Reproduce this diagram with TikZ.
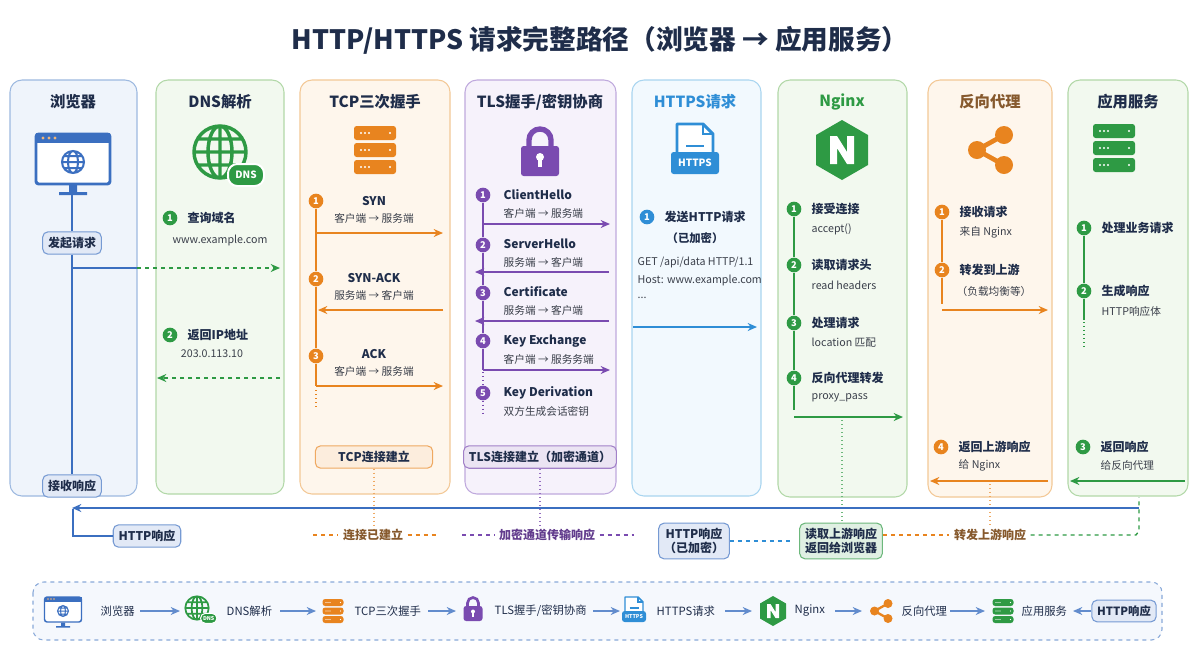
\documentclass[tikz,border=0pt]{standalone}
\usepackage{fontspec}
\setmainfont{Noto Sans CJK SC}
\usetikzlibrary{arrows.meta}
\definecolor{bB}{HTML}{9DB9E0}\definecolor{bF}{HTML}{EFF4FB}\definecolor{bD}{HTML}{3B6FC0}
\definecolor{gB}{HTML}{B2D8A8}\definecolor{gF}{HTML}{F2F9EF}\definecolor{gD}{HTML}{2E9A44}
\definecolor{oB}{HTML}{F3C896}\definecolor{oF}{HTML}{FEF6EC}\definecolor{oD}{HTML}{E8841F}
\definecolor{pB}{HTML}{BFA9DD}\definecolor{pF}{HTML}{F6F2FB}\definecolor{pD}{HTML}{7A4BB0}
\definecolor{cB}{HTML}{A9D5F0}\definecolor{cF}{HTML}{F2F9FE}\definecolor{cD}{HTML}{2F8ED6}
\definecolor{ink}{HTML}{1F2D4A}\definecolor{sub}{HTML}{3A3F4A}
\def\icf{\fontsize{7.5}{8}\selectfont\bfseries}
\def\lwk{1}
\tikzset{
 colbox/.style={rounded corners=9pt,line width=0.8pt},
 hd/.style={font=\fontsize{11.5}{13}\selectfont\bfseries},
 tt/.style={font=\fontsize{9}{10}\selectfont\bfseries,anchor=west,text=ink},
 ss/.style={font=\fontsize{8}{9}\selectfont,anchor=west,text=sub},
 num/.style={circle,fill=#1,text=white,inner sep=0pt,minimum size=11pt,font=\fontsize{7}{7}\selectfont\bfseries},
 arr/.style={line width=1.1pt,-{Stealth[length=7pt,width=6pt]}},
 tag/.style={draw=#1!70,fill=#1!15,rounded corners=4pt,line width=0.8pt,font=\fontsize{9}{10}\selectfont\bfseries,text=ink,inner sep=4pt,align=center},
 lg/.style={font=\fontsize{8.5}{9}\selectfont,text=ink,anchor=west},
 monitor/.pic={
  \draw[bD,line width=2.2pt*\lwk,fill=white,rounded corners=2pt] (-37,-24) rectangle (37,26);
  \fill[bD] (-37,-25) rectangle (37,-15);
  \foreach \i in {-30,-24,-18}\fill[oD!60] (\i,-20) circle (1.6);
  \draw[bD,line width=1.5pt*\lwk] (0,4) circle (11) (0,4) ellipse (5 and 11) (-11,4)--(11,4) (-9,-2)--(9,-2) (-9,10)--(9,10);
  \fill[bD] (-4,27) rectangle (4,34) (-14,34) rectangle (14,37);},
 globe/.pic={
  \draw[gD,line width=2.6pt*\lwk] (0,0) circle (26) (0,0) ellipse (12 and 26) (0,-26)--(0,26) (-26,0)--(26,0) (-22,-13)--(22,-13) (-22,13)--(22,13);
  \fill[gD,rounded corners=7pt*\lwk] (8,12) rectangle (44,34);
  \draw[white,line width=1.5pt*\lwk,rounded corners=7pt*\lwk] (8,12) rectangle (44,34);
  \node[text=white,font=\icf] at (26,23) {DNS};},
 servers/.pic={
  \foreach \y in {-17,0,17}{\fill[#1,rounded corners=2pt] (-21,\y-7) rectangle (21,\y+7);
   \foreach \i in {-14,-10,-6}\fill[white] (\i,\y) circle (1.2);
   \fill[white] (15,\y) circle (1.2);}},
 lock/.pic={
  \draw[pD,line width=4pt*\lwk] (-11,-2) -- (-11,-10) arc(180:360:11) -- (11,-2);
  \fill[pD,rounded corners=2pt] (-19,-4) rectangle (19,26);
  \fill[white] (0,7) circle (4); \fill[white] (-1.8,7) rectangle (1.8,17);},
 doc/.pic={
  \draw[cD,line width=2.2pt*\lwk,fill=white,line join=round] (-18,8)--(-18,-26)--(8,-26)--(18,-16)--(18,8);
  \draw[cD,line width=1.6pt*\lwk] (8,-26)--(8,-16)--(18,-16) (-9,-4)--(9,-4);
  \fill[cD,rounded corners=2pt] (-24,2) rectangle (24,24);
  \node[text=white,font=\icf] at (0,13) {HTTPS};},
 ngx/.pic={
  \fill[gD] (0,-30)--(26,-15)--(26,15)--(0,30)--(-26,15)--(-26,-15)--cycle;
  \fill[white] (-12,14)--(-12,-14)--(-5,-14)--(5,2)--(5,-14)--(12,-14)--(12,14)--(5,14)--(-5,-2)--(-5,14)--cycle;},
 share/.pic={
  \draw[oD,line width=3.5pt*\lwk] (14,-15)--(-13,0)--(14,15);
  \fill[oD] (14,-15) circle (9) (-13,0) circle (9) (14,15) circle (9);},
}
\begin{document}
\begin{tikzpicture}[x=0.75pt,y=-0.75pt]
\useasboundingbox[fill=white] (0,0) rectangle (1200,658);
\node[font=\fontsize{20}{24}\selectfont\bfseries,text=ink] (title) at (600,40) {HTTP/HTTPS 请求完整路径（浏览器 → 应用服务）};
% columns
\draw[colbox,draw=bB,fill=bF] (10,80) rectangle (137,496);
\draw[colbox,draw=gB,fill=gF] (156,80) rectangle (284,494);
\draw[colbox,draw=oB,fill=oF] (300,80) rectangle (450,494);
\draw[colbox,draw=pB,fill=pF] (465,80) rectangle (616,494);
\draw[colbox,draw=cB,fill=cF] (632,80) rectangle (761,496);
\draw[colbox,draw=gB,fill=gF] (778,80) rectangle (907,497);
\draw[colbox,draw=oB,fill=oF] (928,80) rectangle (1052,497);
\draw[colbox,draw=gB,fill=gF] (1068,80) rectangle (1188,496);
\node[hd,text=ink] (h1) at (73,102) {浏览器};
\node[hd,text=ink] (h2) at (220,102) {DNS解析};
\node[hd,text=ink] (h3) at (375,102) {TCP三次握手};
\node[hd,text=ink] (h4) at (540,102) {TLS握手/密钥协商};
\node[hd,text=cD] (h5) at (695,102) {HTTPS请求};
\node[hd,text=gD] (h6) at (842,102) {Nginx};
\node[hd,text=brown!70!black] (h7) at (990,102) {反向代理};
\node[hd,text=ink] (h8) at (1128,102) {应用服务};
\pic at (73,158) {monitor};
\pic at (220,152) {globe};
\pic at (375,150) {servers=oD};
\pic at (540,150) {lock};
\pic at (695,150) {doc};
\pic at (842,150) {ngx};
\pic at (990,150) {share};
\pic at (1114,148) {servers=gD};
% browser
\node[tag=bD] (req) at (72,243) {发起请求};
\node[tag=bD] (resp) at (72,486) {接收响应};
\draw[bD,line width=1pt] (72,195) -- (req) -- (resp);
\coordinate (bq) at (72,268);
\draw[bD,line width=1pt] (bq) -- (137,268);
\draw[arr,gD,dashed] (137,268) -- (280,268);
% DNS
\node[num=gD] (d1) at (170,218) {1}; \node[tt] at (183,218) {查询域名};
\node[ss,anchor=center] at (220,240) {www.example.com};
\node[num=gD] (d2) at (170,335) {2}; \node[tt] at (183,335) {返回IP地址};
\node[ss,anchor=center] at (212,354) {203.0.113.10};
\draw[arr,gD,dashed] (280,378) -- (157,378);
% TCP
\node[num=oD] (t1) at (316,201) {1}; \node[num=oD] (t2) at (316,279) {2}; \node[num=oD] (t3) at (316,356) {3};
\draw[oD,line width=1pt] (t1) -- (t2) -- (t3) -- (316,386);
\draw[oD,dotted,line width=1pt] (316,390) -- (316,410);
\foreach \y/\a/\b in {201/SYN/客户端 → 服务端,278/SYN-ACK/服务端 → 客户端,354/ACK/客户端 → 服务端}{
 \node[tt,anchor=center] at (374,\y) {\a}; \node[ss,anchor=center] at (374,\y+17) {\b};}
\draw[arr,oD] (316,233) -- (443,233);
\draw[arr,oD] (443,310) -- (318,310);
\draw[arr,oD] (316,386) -- (443,386);
\node[tag=oD,minimum width=88pt] (tcpok) at (374,457) {TCP连接建立};
% TLS
\foreach \n/\y in {1/195,2/245,3/293,4/341,5/393}{\node[num=pD] (s\n) at (483,\y) {\n};}
\draw[pD,line width=1pt] (s1)--(s2)--(s3)--(s4)--(483,370);
\draw[pD,dotted,line width=1pt] (483,372)--(s5)--(483,415);
\foreach \y/\a/\b in {195/ClientHello/客户端 → 服务端,244/ServerHello/服务端 → 客户端,292/Certificate/服务端 → 客户端,341/Key Exchange/客户端 → 服务务端,393/Key Derivation/双方生成会话密钥}{
 \node[tt] at (499,\y) {\a}; \node[ss] at (499,\y+18) {\b};}
\draw[arr,pD] (483,224) -- (610,224);
\draw[arr,pD] (609,272) -- (475,272);
\draw[arr,pD] (609,321) -- (475,321);
\draw[arr,pD] (483,370) -- (610,370);
\node[tag=pD,minimum width=100pt] (tlsok) at (540,457) {TLS连接建立（加密通道）};
% HTTPS
\node[num=cD] (q1) at (647,217) {1}; \node[tt] at (660,217) {发送HTTP请求};
\node[tt,font=\fontsize{8.5}{9}\selectfont\bfseries] at (662,238) {（已加密）};
\node[ss] at (633,262) {GET /api/data HTTP/1.1};
\node[ss] at (633,280) {Host: www.example.com};
\node[ss] at (633,298) {...};
\draw[arr,cD] (633,327) -- (757,327);
% Nginx
\foreach \n/\y/\a/\b in {1/209/接受连接/accept(),2/265/读取请求头/read headers,3/323/处理请求/location 匹配,4/378/反向代理转发/proxy\_pass}{
 \node[num=gD] (n\n) at (794,\y) {\n}; \node[tt] at (807,\y) {\a}; \node[ss] at (807,\y+20) {\b};}
\draw[gD,line width=1pt] (n1)--(n2)--(n3)--(n4)--(794,410);
\draw[arr,gD] (794,417) -- (903,417);
\draw[gD!70,dotted,line width=1pt] (842,420) -- (842,522);
% reverse proxy
\node[num=oD] (r1) at (942,212) {1}; \node[tt] at (955,212) {接收请求}; \node[ss] at (955,232) {来自 Nginx};
\node[num=oD] (r2) at (942,270) {2}; \node[tt] at (955,270) {转发到上游}; \node[ss] at (952,291) {（负载均衡等）};
\draw[oD,line width=1pt] (r1)--(r2)--(942,304);
\draw[arr,oD] (942,310) -- (1048,310);
\node[num=oD] (r4) at (941,447) {4}; \node[tt] at (954,447) {返回上游响应}; \node[ss] at (954,465) {给 Nginx};
\draw[arr,oD] (1048,481) -- (930,481);
\draw[oD!70,dotted,line width=1pt] (990,484) -- (990,525);
% app
\node[num=gD] (a1) at (1084,228) {1}; \node[tt] at (1097,228) {处理业务请求};
\node[num=gD] (a2) at (1084,291) {2}; \node[tt] at (1097,291) {生成响应}; \node[ss] at (1097,311) {HTTP响应体};
\draw[gD,line width=1pt] (a1)--(a2)--(1084,320);
\draw[gD,dotted,line width=1pt] (1084,322)--(1084,348);
\node[num=gD] (a3) at (1083,447) {3}; \node[tt] at (1096,447) {返回响应}; \node[ss] at (1096,465) {给反向代理};
\draw[arr,gD] (1185,481) -- (1070,481);
% bottom return path
\coordinate (ret) at (1139,508);
\draw[arr,bD,line width=1.3pt] (ret) -- (72,508);
\node[tag=bD] (hr) at (147,536) {HTTP响应};
\draw[bD,line width=1pt] (hr.west) -| (73,509);
\draw[oD!70,dotted,line width=1pt] (tcpok.south) -- (374,530);
\draw[pD!80,dotted,line width=1pt] (tlsok.south) -- (540,528);
\node[font=\fontsize{9}{10}\selectfont\bfseries,text=brown!70!black] (l1) at (373,535) {连接已建立};
\draw[oD,dashed,line width=1pt] (313,535) -- (l1.west) (l1.east) -- (437,535);
\node[font=\fontsize{9}{10}\selectfont\bfseries,text=pD!80!black] (l2) at (547,535) {加密通道传输响应};
\draw[pD,dashed,line width=1pt] (462,535) -- (l2.west) (l2.east) -- (634,535);
\node[tag=bD] (l3) at (694,541) {HTTP响应\\（已加密）};
\draw[cD,dashed,line width=1pt] (l3.east) -- (l3.east-|790,0);
\node[tag=gD] (l4) at (841,541) {读取上游响应\\返回给浏览器};
\node[font=\fontsize{9}{10}\selectfont\bfseries,text=brown!70!black] (l5) at (990,535) {转发上游响应};
\draw[oD,dashed,line width=1pt] (l4.east|-l5) -- (l5.west);
\draw[gD,dashed,line width=1pt] (l5.east) -- (1136,535) -- (1139,531) -- (1139,497);
% legend
\draw[bD!60,dashed,fill=bF!60,rounded corners=8pt,line width=0.8pt] (33,582) rectangle (1162,640);
\begin{scope}
\def\icf{\fontsize{4}{4}\selectfont\bfseries}
\def\lwk{0.5}
\pic[scale=0.5] at (63,609) {monitor};
\node[lg] (g1) at (96,611) {浏览器};
\pic[scale=0.45] at (197,608) {globe};
\node[lg] (g2) at (222,611) {DNS解析};
\pic[scale=0.5] at (333,611) {servers=oD};
\node[lg] (g3) at (350,611) {TCP三次握手};
\pic[scale=0.5] at (473,608) {lock};
\node[lg] (g4) at (490,611) {TLS握手/密钥协商};
\pic[scale=0.5] at (634,610) {doc};
\node[lg] (g5) at (652,611) {HTTPS请求};
\pic[scale=0.5] at (773,611) {ngx};
\node[lg] (g6) at (790,611) {Nginx};
\pic[scale=0.5] at (881,611) {share};
\node[lg] (g7) at (897,611) {反向代理};
\pic[scale=0.5] at (1003,611) {servers=gD};
\node[lg] (g8) at (1017,611) {应用服务};
\node[tag=bD,font=\fontsize{8.5}{9}\selectfont\bfseries] (g9) at (1124,611) {HTTP响应};
\end{scope}
\foreach \a/\b in {140/180,280/316,428/456,593/620,725/752,835/862,950/985}{\draw[arr,bD!80,line width=0.9pt] (\a,611) -- (\b,611);}
\draw[arr,bD!80,line width=0.9pt] (g9.west) -- (1073,611);
\end{tikzpicture}
\end{document}
